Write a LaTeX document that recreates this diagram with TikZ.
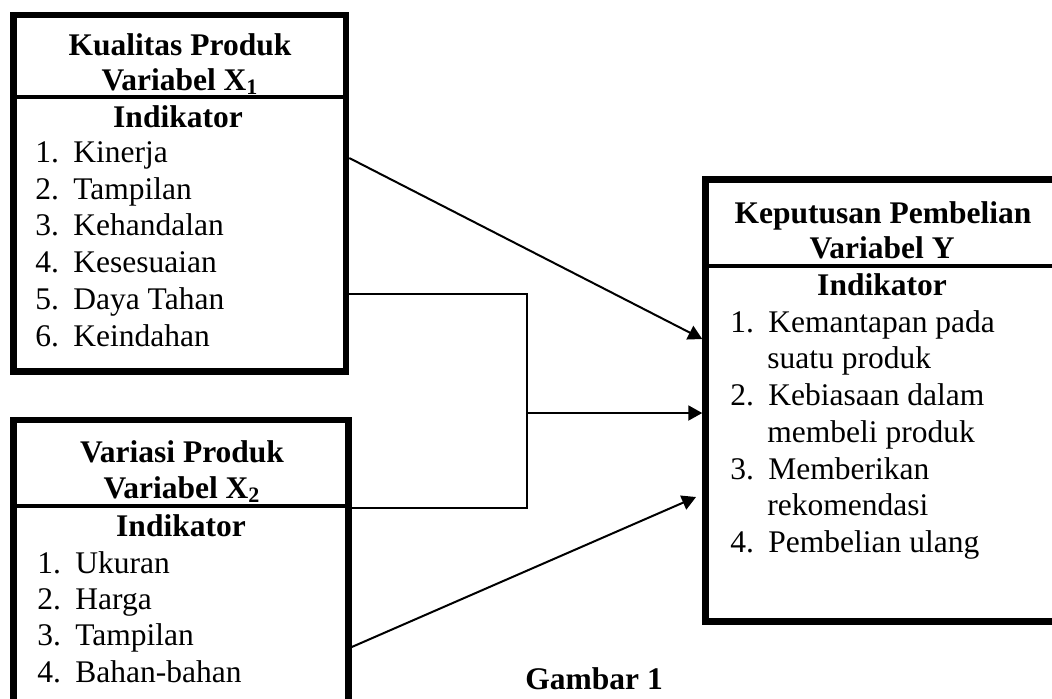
\documentclass[tikz,border=0pt]{standalone}
\usepackage{fontspec}
\setmainfont{Liberation Serif}
\usetikzlibrary{arrows.meta,positioning,calc}
\newcommand{\numitem}[2]{\makebox[19pt][l]{#1}#2}
\newcommand{\diagsize}{\fontsize{15.75pt}{18pt}\selectfont}

\begin{document}
\begin{tikzpicture}[
    x=0.5pt,y=-0.5pt,
    varbox/.style={rectangle,draw,line width=3.25pt,inner sep=0pt},
    divider/.style={line width=2.25pt},
    heading/.style={font=\diagsize\bfseries,anchor=base,inner sep=0pt},
    itm/.style={font=\diagsize,anchor=base west,inner sep=0pt},
    link/.style={line width=1pt},
    arr/.style={-{Triangle[length=7pt,width=7.5pt]},line width=1pt}
  ]
  \useasboundingbox (0,0) rectangle (1052,698);
  \clip (0,0) rectangle (1052,698);

  %% Variable boxes
  \node[varbox,minimum width=166.25pt,minimum height=178.25pt] (kualitas) at (179.75,193.25) {};
  \node[varbox,minimum width=167.5pt,minimum height=170pt] (variasi) at (181,590) {};
  \node[varbox,minimum width=178.25pt,minimum height=221pt] (keputusan) at (883.75,400.5) {};

  \draw[divider] (kualitas.west |- 0,97) -- (kualitas.east |- 0,97);
  \draw[divider] (variasi.west |- 0,506) -- (variasi.east |- 0,506);
  \draw[divider] (keputusan.west |- 0,266) -- (keputusan.east |- 0,266);

  %% Kualitas Produk (X1)
  \node[heading] (kualitas-t1) at (180,55) {Kualitas Produk};
  \node[heading] (kualitas-t2) at (180,90) {Variabel X\textsubscript{1}};
  \node[heading] (kualitas-ind) at (178,127) {Indikator};
  \node[itm] (kualitas-i1) at (35,162) {\numitem{1.}{Kinerja}};
  \node[itm] (kualitas-i2) at (35,199) {\numitem{2.}{Tampilan}};
  \node[itm] (kualitas-i3) at (35,235) {\numitem{3.}{Kehandalan}};
  \node[itm] (kualitas-i4) at (35,272) {\numitem{4.}{Kesesuaian}};
  \node[itm] (kualitas-i5) at (35,309) {\numitem{5.}{Daya Tahan}};
  \node[itm] (kualitas-i6) at (35,346) {\numitem{6.}{Keindahan}};

  %% Variasi Produk (X2)
  \node[heading] (variasi-t1) at (182,462) {Variasi Produk};
  \node[heading] (variasi-t2) at (182,498) {Variabel X\textsubscript{2}};
  \node[heading] (variasi-ind) at (181,536) {Indikator};
  \node[itm] (variasi-i1) at (37,573) {\numitem{1.}{Ukuran}};
  \node[itm] (variasi-i2) at (37,609) {\numitem{2.}{Harga}};
  \node[itm] (variasi-i3) at (37,645) {\numitem{3.}{Tampilan}};
  \node[itm] (variasi-i4) at (37,682) {\numitem{4.}{Bahan-bahan}};

  %% Keputusan Pembelian (Y)
  \node[heading] (keputusan-t1) at (883,223) {Keputusan Pembelian};
  \node[heading] (keputusan-t2) at (882,258) {Variabel Y};
  \node[heading] (keputusan-ind) at (882,295) {Indikator};
  \node[itm] (keputusan-i1) at (730,332) {\numitem{1.}{Kemantapan pada}};
  \node[itm] (keputusan-i1b) at (767,368) {suatu produk};
  \node[itm] (keputusan-i2) at (730,405) {\numitem{2.}{Kebiasaan dalam}};
  \node[itm] (keputusan-i2b) at (767,442) {membeli produk};
  \node[itm] (keputusan-i3) at (730,479) {\numitem{3.}{Memberikan}};
  \node[itm] (keputusan-i3b) at (767,515) {rekomendasi};
  \node[itm] (keputusan-i4) at (730,552) {\numitem{4.}{Pembelian ulang}};

  %% caption
  \node[heading,anchor=base west] (gambar) at (525,689) {Gambar 1};

  %% connectors
  \coordinate (junc) at (527,413);
  \coordinate (variasi-tip) at (696,497);
  \draw[arr] (kualitas.east |- 0,158) -- (keputusan.west |- 0,339);
  \draw[link] (kualitas.east |- 0,294) -| (junc) |- (variasi.east |- 0,508);
  \draw[arr] (junc) -- (keputusan.west |- junc);
  \draw[arr] (variasi.east |- 0,647) -- (variasi-tip);
\end{tikzpicture}
\end{document}
